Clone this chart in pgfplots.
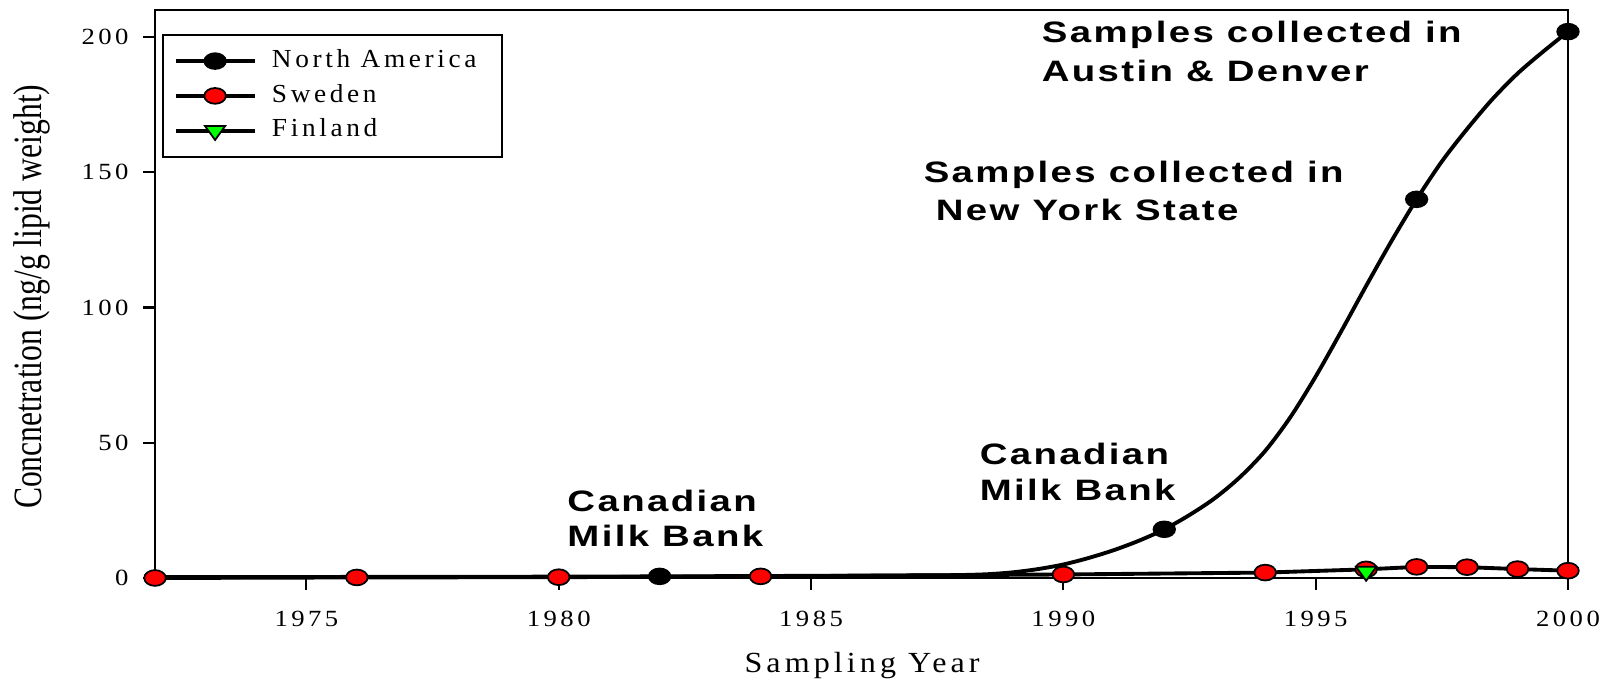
\documentclass[border=0pt]{standalone}
\usepackage{graphicx}
\usepackage{fontspec}
\usepackage{pgfplots}
\usepackage{pgfplotstable}
\pgfplotsset{compat=1.18}
\setmainfont{Liberation Serif}
\newfontfamily\tickf{Liberation Serif}[FakeStretch=1.15, LetterSpace=15]
\newfontfamily\legf{Liberation Serif}[FakeStretch=1.05, LetterSpace=14]
\newfontfamily\labf{Liberation Serif}[FakeStretch=1.1, LetterSpace=14]
\newfontfamily\annf{Liberation Sans}[FakeStretch=1.3, LetterSpace=8]
\definecolor{sred}{RGB}{255,0,0}
\definecolor{fgreen}{RGB}{0,255,0}

\pgfplotstableread{
year conc
1972 0.3
1976 0.4
1980 0.5
1982 0.6
1985 0.8
1987.5 1.0
1988 1.1
1988.5 1.4
1989 2.1
1989.5 3.3
1990 5.0
1990.5 7.4
1991 10.3
1991.5 13.8
1992 18
1992.5 23.3
1993 29.5
1993.5 37.3
1994 47
1994.5 59.5
1995 74.5
1995.5 91
1996 108
1996.5 124.5
1997 140
1997.5 154
1998 166
1998.5 177
1999 186.5
1999.5 194.5
2000 202
}\nacurve

\pgfplotstableread{
year conc
1982 0.6
1992 18
1997 140
2000 202
}\napoints

\pgfplotstableread{
year conc
1972 0
1976 0.2
1980 0.3
1984 0.6
1990 1.3
1994 2.0
1996 3.2
1997 4.1
1998 4.0
1999 3.3
2000 2.7
}\sweden

\pgfplotstableread{
year conc
1996 2.4
}\finland

\begin{document}
\begin{tikzpicture}
\useasboundingbox (-1.55cm,-1.04cm) rectangle (14.59cm,5.78cm);
\begin{axis}[
  scale only axis, width=14.13cm, height=5.68cm,
  xmin=1972, xmax=2000, ymin=0, ymax=210,
  xtick={1975,1980,1985,1990,1995,2000},
  ytick={0,50,100,150,200},
  tick align=outside, tick pos=left,
  major tick length=0.12cm,
  axis line style={line width=0.6pt},
  every tick/.style={black, line width=0.6pt},
  clip=false,
  /pgf/number format/1000 sep={},
  /pgf/number format/assume math mode=true,
  ticklabel style={font=\tickf\fontsize{6.6}{7.5}\selectfont},
  xticklabel style={yshift=-2.6pt},
  yticklabel style={xshift=-0.6pt},
  xlabel={Sampling Year},
  xlabel style={at={(axis description cs:0.5004,-0.167)}, anchor=base, font=\labf\fontsize{8.3}{9}\selectfont},
  ylabel={\scalebox{1}[1.27]{Concnetration (ng/g lipid weight)}},
  ylabel style={at={(axis description cs:-0.087,0.495)}, anchor=center, font=\fontsize{9}{10}\selectfont},
  legend image code/.code={
    \draw[mark repeat=2, mark phase=2, #1] plot coordinates {(0cm,0cm) (0.395cm,0cm) (0.79cm,0cm)};
  },
  legend style={at={(axis description cs:0.005,0.958)}, anchor=north west,
    draw=black, line width=0.6pt, font=\legf\fontsize{7.4}{8}\selectfont,
    inner sep=3pt, row sep=1pt, column sep=3.2pt,
    nodes={inner sep=1.2pt, text height=5pt, text depth=1.5pt}},
  legend cell align=left,
]
\addlegendimage{black, line width=1.1pt, mark=*, mark size=2.24pt, mark options={xscale=1.37, fill=black, draw=black, line width=0.5pt}}
\addlegendentry{North America\kern 3pt\mbox{}}
\addlegendimage{black, line width=1.1pt, mark=*, mark size=2.24pt, mark options={xscale=1.37, fill=sred, draw=black, line width=0.5pt}}
\addlegendentry{Sweden}
\addlegendimage{black, line width=1.1pt, mark=triangle*, mark size=2.65pt, mark options={rotate=180, xscale=1.25, fill=fgreen, draw=black, line width=0.5pt}}
\addlegendentry{Finland}

\addplot[black, line width=1.1pt, smooth, tension=0.5, no marks, forget plot] table[x=year,y=conc] {\nacurve};
\addplot[only marks, mark=*, mark size=2.24pt, mark options={xscale=1.37, fill=black, draw=black, line width=0.5pt}, forget plot] table[x=year,y=conc] {\napoints};
\addplot[black, line width=1.1pt, mark=*, mark size=2.24pt, mark options={xscale=1.37, fill=sred, draw=black, line width=0.5pt}, forget plot] table[x=year,y=conc] {\sweden};
\addplot[only marks, mark=triangle*, mark size=2.65pt, mark options={rotate=180, xscale=1.25, fill=fgreen, draw=black, line width=0.5pt}, forget plot] table[x=year,y=conc] {\finland};

\tikzset{ann/.style={anchor=base west, inner sep=0pt, font=\annf\bfseries\fontsize{8.4}{9}\selectfont}}
\node[ann] at (axis cs:1989.56,197.8) {Samples collected in};
\node[ann] at (axis cs:1989.56,183.7) {Austin \& Denver};
\node[ann] at (axis cs:1987.22,146.4) {Samples collected in};
\node[ann] at (axis cs:1987.46,132.3) {New York State};
\node[ann] at (axis cs:1988.33,42.1) {Canadian};
\node[ann] at (axis cs:1988.33,28.8) {Milk Bank};
\node[ann] at (axis cs:1980.16,24.4) {Canadian};
\node[ann] at (axis cs:1980.16,11.5) {Milk Bank};
\end{axis}
\end{tikzpicture}
\end{document}
